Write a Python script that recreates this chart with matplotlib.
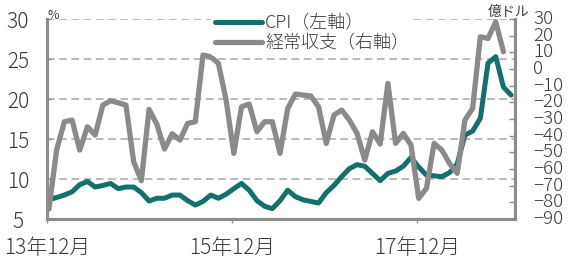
import matplotlib.pyplot as plt

plt.rcParams['font.family'] = ['Noto Sans CJK JP', 'DejaVu Sans']

# CPI (left axis, %), monthly from Dec 2013
cpi = [7.4, 7.7, 8.0, 8.4, 9.3, 9.7, 9.0, 9.2, 9.45, 8.8,
       9.0, 9.0, 8.3, 7.25, 7.6, 7.6, 8.0, 8.0, 7.3, 6.75,
       7.2, 8.0, 7.6, 8.1, 8.8, 9.45, 8.6, 7.3, 6.6, 6.3,
       7.3, 8.6, 7.8, 7.4, 7.2, 7.0, 8.3, 9.2, 10.3, 11.3,
       11.8, 11.6, 10.7, 9.8, 10.7, 11.0, 11.6, 12.7, 11.5, 10.5,
       10.4, 10.3, 10.8, 11.9, 15.5, 16.0, 17.6, 24.5, 25.3, 21.5,
       20.5]
# current account (right axis, 100 million USD)
ca = [-84, -48.6, -31.6, -30.6, -48.6, -34.6, -39.6, -21.6, -19, -20.2,
      -21.6, -55.6, -67, -24.2, -33, -48, -38.8, -42.6, -32.6, -31.6,
      8.4, 7.4, 3.4, -18.6, -50.6, -22.6, -21, -37.6, -31.6, -31.6,
      -50.6, -23.6, -15, -15.6, -16.2, -22.6, -44.6, -27.6, -24.6, -30.6,
      -38.6, -54.6, -37.6, -45, -8.6, -44.6, -38.6, -45.6, -77.6, -71.6,
      -44.6, -48.6, -56.6, -62.6, -30.6, -23.6, 19.4, 18.4, 28.4, 10.4]
xtick_pos = [0, 24, 48]
xtick_labels = ['13年12月', '15年12月', '17年12月']

teal = '#13706c'
grey = '#8a8a8a'
spine_c = '#8c8c8c'
txt_c = '#3a3a3a'

fig = plt.figure(figsize=(5.69, 2.58), dpi=100)
ax = fig.add_axes([0.0826, 0.151, 0.8225, 0.775])
ax2 = ax.twinx()

x1 = [i + 0.25 for i in range(len(cpi))]
x2 = [i + 0.25 for i in range(len(ca))]
l1, = ax.plot(x1, cpi, color=teal, lw=3.6, solid_joinstyle='round', solid_capstyle='round')
l2, = ax2.plot(x2, ca, color=grey, lw=3.8, solid_joinstyle='round', solid_capstyle='round')

ax.set_xlim(0, 60.75)
ax.set_ylim(5, 30)
ax2.set_ylim(-90, 30)
ax.set_yticks([5, 10, 15, 20, 25, 30])
ax2.set_yticks(range(-90, 31, 10))
ax2.set_yticklabels([str(v).replace('-', '\u2212') for v in range(-90, 31, 10)])
ax.set_xticks(xtick_pos)
ax.set_xticklabels(xtick_labels)

for v in [10, 15, 20, 25, 30]:
    ax.axhline(v, color='#a8a8a8', lw=1.1, ls=(0, (5, 3)), zorder=0)

for a in (ax, ax2):
    a.spines['top'].set_visible(False)
    for s in ('left', 'right', 'bottom'):
        a.spines[s].set_color(spine_c)
        a.spines[s].set_linewidth(2.2)

ax.tick_params(axis='y', direction='in', length=3, width=1, color=spine_c,
               labelsize=15, labelcolor=txt_c, pad=21)
for lab in ax.get_yticklabels():
    lab.set_horizontalalignment('center')
    lab.set_fontweight('light')
ax.tick_params(axis='x', direction='out', length=3, width=1, color=spine_c,
               labelsize=15, labelcolor=txt_c, pad=10)
for lab in ax.get_xticklabels():
    lab.set_fontweight('light')
ax2.tick_params(axis='y', direction='in', length=4, width=1, color=spine_c,
                labelsize=13.5, labelcolor=txt_c, pad=13)
for lab in ax2.get_yticklabels():
    lab.set_verticalalignment('center')
    lab.set_fontweight('light')

fig.text(0.083, 0.94, '%', fontsize=9, color=txt_c, ha='left', va='center')
fig.text(0.93, 0.955, '億ドル', fontsize=10, color=txt_c, ha='right', va='center')

leg = fig.legend([l1, l2], ['CPI（左軸）', '経常収支（右軸）'], loc='upper left',
                 bbox_to_anchor=(0.355, 0.995), fontsize=13, frameon=True,
                 handlelength=2.6, handletextpad=0.2, labelspacing=0.15,
                 borderpad=0.2)
leg.get_frame().set_facecolor('white')
leg.get_frame().set_edgecolor('none')
leg.get_frame().set_alpha(1)
for t in leg.get_texts():
    t.set_color(txt_c)
    t.set_fontweight('light')

fig.savefig('out.png', dpi=100)
